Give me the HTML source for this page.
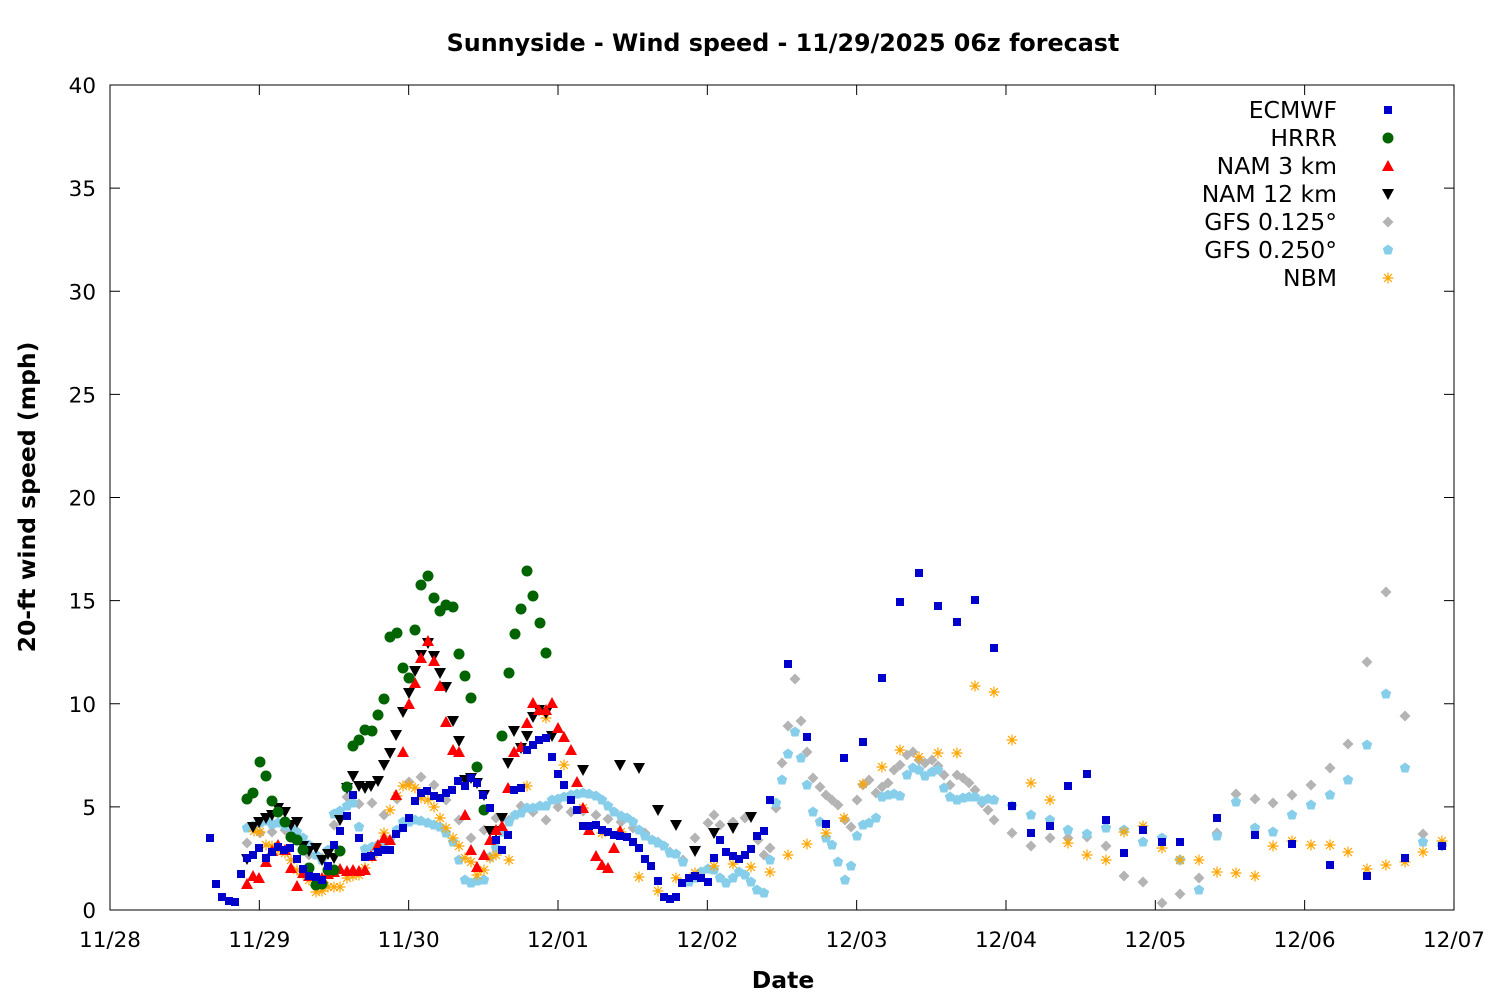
<!DOCTYPE html>
<html><head><meta charset="utf-8"><style>body{margin:0;background:#fff}svg{display:block;font-family:"DejaVu Sans","Liberation Sans",sans-serif}</style></head>
<body>
<svg id="s" width="1500" height="1000" xmlns="http://www.w3.org/2000/svg">
<rect width="1500" height="1000" fill="#fff"/>
<text x="783" y="51" font-size="23.8" font-weight="bold" text-anchor="middle">Sunnyside - Wind speed - 11/29/2025 06z forecast</text>
<text x="783" y="988" font-size="23.5" font-weight="bold" text-anchor="middle">Date</text>
<text transform="translate(35,497) rotate(-90)" font-size="23.5" font-weight="bold" text-anchor="middle">20-ft wind speed (mph)</text>
<g id="ax"></g>
<g id="pts"></g>
</svg>
<script>
var ns="http://www.w3.org/2000/svg",ax=document.getElementById('ax'),P=document.getElementById('pts');
function el(p,t,a,txt){var e=document.createElementNS(ns,t);for(var k in a)e.setAttribute(k,a[k]);if(txt)e.textContent=txt;p.appendChild(e);return e;}
el(ax,'rect',{x:110,y:85,width:1344,height:825,fill:'none',stroke:'#000','stroke-width':1});
for(var i=0;i<=8;i++){var y=910-i*103.125;el(ax,'line',{x1:110,x2:120,y1:y,y2:y,stroke:'#000'});el(ax,'line',{x1:1444,x2:1454,y1:y,y2:y,stroke:'#000'});el(ax,'text',{x:96,y:y+8,'font-size':21.5,'text-anchor':'end'},String(i*5));}
var xl=['11/28','11/29','11/30','12/01','12/02','12/03','12/04','12/05','12/06','12/07'];
for(var i=0;i<=9;i++){var x=110+i*149.33;el(ax,'line',{x1:x,x2:x,y1:910,y2:900,stroke:'#000'});el(ax,'line',{x1:x,x2:x,y1:85,y2:95,stroke:'#000'});el(ax,'text',{x:x,y:947,'font-size':21.5,'text-anchor':'middle'},xl[i]);}
function mk(x,y,t,c){
 if(t==0)el(P,'rect',{x:x-4,y:y-4,width:8,height:8,fill:c});
 else if(t==1)el(P,'circle',{cx:x,cy:y,r:5.5,fill:c});
 else if(t==2)el(P,'polygon',{points:(x-6)+','+(y+5)+' '+(x+6)+','+(y+5)+' '+x+','+(y-6),fill:c});
 else if(t==3)el(P,'polygon',{points:(x-6)+','+(y-5)+' '+(x+6)+','+(y-5)+' '+x+','+(y+6),fill:c});
 else if(t==4)el(P,'polygon',{points:x+','+(y-5.5)+' '+(x+5.5)+','+y+' '+x+','+(y+5.5)+' '+(x-5.5)+','+y,fill:c});
 else if(t==5){var p=[];for(var k=0;k<5;k++){var a=-Math.PI/2+k*2*Math.PI/5;p.push((x+5.5*Math.cos(a))+','+(y+5.5*Math.sin(a)));}el(P,'polygon',{points:p.join(' '),fill:c});}
 else {var d='';for(var k=0;k<4;k++){var a=k*Math.PI/4;d+='M'+(x-5.5*Math.cos(a))+' '+(y-5.5*Math.sin(a))+'L'+(x+5.5*Math.cos(a))+' '+(y+5.5*Math.sin(a));}el(P,'path',{d:d,stroke:c,'stroke-width':1.2,fill:'none'});}
}
function ser(s,t,c){var a=s.split(/[\s,]+/).filter(Boolean).map(Number);for(var i=0;i<a.length;i+=2)mk(a[i],a[i+1],t,c);}
var C=['#0000cc','#006400','#ff0000','#000000','#b4b4b4','#87ceeb','#ffa500'];
ser("247 843 260 833 272 832 285 830 297 838 309 855 322 858 334 825 347 797 359 804 372 803 384 815 397 799 409 782 421 777 434 785 446 800 459 820 471 838 484 830 496 818 509 820 521 806 533 812 546 820 558 807 571 812 583 811 596 815 608 819 621 822 633 828 645 833 658 842 670 852 683 860 695 838 708 823 714 815 720 825 733 822 745 818 758 840 764 855 770 848 776 808 782 763 788 726 795 679 801 721 807 752 813 778 820 787 826 795 832 800 838 805 845 820 851 827 857 800 863 785 869 780 876 793 882 787 888 783 894 770 900 765 907 755 913 752 919 760 925 763 932 760 938 766 944 775 950 785 957 775 963 778 969 783 975 790 982 803 988 810 994 820 1012 833 1031 846 1050 838 1068 838 1087 837 1106 846 1124 876 1143 882 1162 903 1180 894 1199 878 1217 833 1236 794 1255 799 1273 803 1292 795 1311 785 1330 768 1348 744 1367 662 1386 592 1405 716 1423 834 1442 846",4,C[4]);
ser("247 828 253 826 260 823 266 821 272 824 278 823 285 826 291 828 297 832 303 838 309 845 316 855 322 860 328 850 334 814 340 811 347 806 353 803 359 827 365 849 372 847 378 845 384 844 390 840 397 830 403 822 409 822 415 820 421 821 428 823 434 825 440 827 446 833 453 842 459 860 465 880 471 883 477 881 484 880 490 857 496 848 502 832 509 822 515 815 521 813 527 808 533 808 540 806 546 806 552 800 558 799 564 797 571 795 577 794 583 793 589 794 596 796 602 800 608 806 614 812 621 816 627 818 633 822 639 830 645 836 652 840 658 843 664 846 670 853 676 854 683 862 689 882 695 878 701 872 708 869 714 870 720 878 726 883 733 878 739 872 745 875 751 882 757 890 764 893 770 860 776 803 782 780 788 754 795 732 801 758 807 785 813 812 820 822 826 838 832 845 838 862 845 880 851 866 857 836 863 825 869 823 876 818 882 797 888 795 894 794 900 796 907 775 913 768 919 770 925 776 932 772 938 770 944 788 950 797 957 800 963 798 969 797 975 797 982 801 988 799 994 800 1012 806 1031 815 1050 820 1068 830 1087 834 1106 828 1124 830 1143 842 1162 838 1180 860 1199 890 1217 836 1236 802 1255 828 1273 832 1292 815 1311 805 1330 795 1348 780 1367 745 1386 694 1405 768 1423 842 1442 845",5,C[5]);
ser("254 831 260 832 266 845 272 846 278 850 285 853 291 860 297 870 303 874 309 880 316 892 322 891 328 887 334 887 340 887 347 878 353 876 359 875 365 868 372 857 378 848 384 833 390 810 397 796 403 786 409 785 415 788 421 798 428 800 434 807 440 818 446 828 453 838 459 846 465 858 471 862 477 875 484 870 490 858 496 855 509 860 527 786 546 718 564 765 583 808 602 833 621 832 639 877 658 891 676 878 695 873 714 866 733 864 751 867 770 872 788 855 807 844 826 833 844 818 863 784 882 767 900 750 919 757 938 753 957 753 975 686 994 692 1012 740 1031 783 1050 800 1068 843 1087 855 1106 860 1124 832 1143 826 1162 848 1180 860 1199 860 1217 872 1236 873 1255 876 1273 846 1292 841 1311 845 1330 845 1348 852 1367 869 1386 865 1405 862 1423 852 1442 841",6,C[6]);
ser("247 859 253 827 259 822 266 818 272 815 278 808 285 812 291 825 297 822 303 846 309 851 316 848 322 860 328 854 334 858 340 820 347 788 353 776 359 786 365 788 371 786 378 781 384 765 390 753 396 735 403 712 409 693 415 671 421 655 428 643 434 656 440 673 446 687 453 721 459 741 465 780 471 778 477 783 484 795 490 831 496 831 502 818 508 763 514 731 521 748 527 736 533 717 539 710 546 713 552 736 583 770 620 765 639 768 658 810 676 825 695 851 714 833 733 828 751 817",3,C[3]);
ser("247 884 253 876 259 878 266 862 272 851 278 845 285 850 291 868 297 886 303 873 309 876 316 881 322 878 328 874 334 872 340 869 347 871 353 870 359 871 365 870 371 856 378 845 384 838 390 840 396 795 403 752 409 704 415 683 421 658 428 641 434 661 440 686 446 722 453 750 459 752 465 815 471 850 477 867 484 855 490 840 496 830 502 826 508 788 514 752 521 747 527 723 533 703 539 710 546 710 552 703 558 728 564 737 571 750 577 782 583 808 589 830 596 856 602 865 608 868 614 848 620 831",2,C[2]);
ser("247 799 253 793 260 762 266 776 272 801 278 812 285 822 291 837 297 840 303 850 309 868 316 885 322 884 328 870 334 870 340 851 347 787 353 746 359 740 365 730 372 731 378 715 384 699 390 637 397 633 403 668 409 678 415 630 421 585 428 576 434 598 440 611 446 605 453 607 459 654 465 676 471 698 477 767 484 810 502 736 509 673 515 634 521 609 527 571 533 596 540 623 546 653",1,C[1]);
ser("210 838 216 884 222 897 229 901 235 902 241 874 247 858 253 855 259 848 266 858 272 852 278 847 284 850 290 848 297 859 303 869 309 876 316 877 322 880 328 866 334 845 340 831 347 816 353 795 359 838 365 857 371 856 378 852 384 850 390 850 396 834 403 828 409 818 415 801 421 793 427 791 434 796 440 798 446 793 452 790 458 781 465 786 471 778 477 783 483 795 490 808 496 840 502 850 508 835 514 790 521 788 527 750 533 745 539 740 546 738 552 757 558 774 564 785 571 800 577 810 583 826 589 826 596 825 602 830 608 832 614 835 620 836 627 837 633 842 639 848 645 859 651 866 658 881 664 897 670 899 676 897 682 883 689 878 695 876 701 878 708 882 714 858 720 840 726 852 733 856 739 859 745 855 751 849 757 836 764 831 770 800 788 664 807 737 826 824 844 758 863 742 882 678 900 602 919 573 938 606 957 622 975 600 994 648 1012 806 1031 833 1050 826 1068 786 1087 774 1106 820 1124 853 1143 830 1162 842 1180 842 1217 818 1255 835 1292 844 1330 865 1367 876 1405 858 1442 846",0,C[0]);
var L=['ECMWF','HRRR','NAM 3 km','NAM 12 km','GFS 0.125°','GFS 0.250°','NBM'];
for(var i=0;i<7;i++){var y=110+i*28;el(P,'text',{x:1337,y:y+8,'font-size':23.5,'text-anchor':'end'},L[i]);mk(1388,y,i,C[i]);}
</script>
</body></html>
